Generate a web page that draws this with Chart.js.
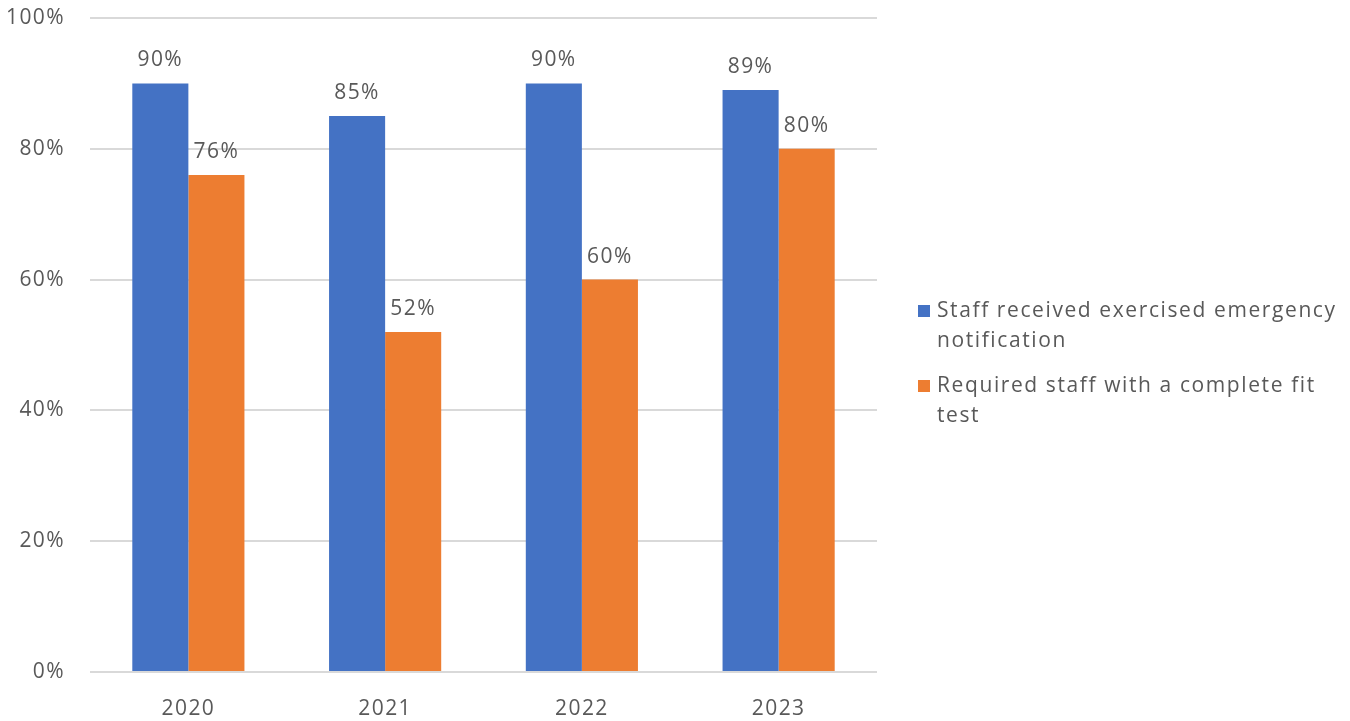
<!DOCTYPE html>
<html>
<head>
<meta charset="utf-8">
<script src="https://cdn.jsdelivr.net/npm/chart.js@4"></script>
<style>
  html, body { margin: 0; padding: 0; background: #fff; }
  #wrap { width: 1350px; height: 721px; }
</style>
</head>
<body>
<div id="wrap"><canvas id="myChart"></canvas></div>
<script>
'use strict';

// ******* DATA *******
let years = ['2020', '2021', '2022', '2023'];
let notifiedStaff = [90, 85, 90, 89];
let fitTestedStaff = [76, 52, 60, 80];
let seriesNames = [
  ['Staff received exercised emergency', 'notification'],
  ['Required staff with a complete fit', 'test']
];
let yTicks = [0, 20, 40, 60, 80, 100];

let textColor = '#595959';
let fontFamily = '"Open Sans", sans-serif';
let blue = '#4472C4';
let orange = '#ED7D31';

// ****** PLUGINS ******
// a little tracking on every piece of text
const wideText = {
  id: 'wideText',
  beforeDraw(chart) {
    chart.ctx.letterSpacing = '1.4px';
  }
};

// value labels above each bar
const barValues = {
  id: 'barValues',
  afterDatasetsDraw(chart) {
    const ctx = chart.ctx;
    ctx.save();
    ctx.font = '21px ' + fontFamily;
    ctx.fillStyle = textColor;
    ctx.textAlign = 'center';
    ctx.textBaseline = 'alphabetic';
    chart.data.datasets.forEach((ds, i) => {
      chart.getDatasetMeta(i).data.forEach((bar, j) => {
        ctx.fillText(ds.data[j] + '%', bar.x, bar.y - 17);
      });
    });
    ctx.restore();
  }
};

// legend on the right with wrapped labels
const sideLegend = {
  id: 'sideLegend',
  afterDraw(chart) {
    const ctx = chart.ctx;
    const colors = [blue, orange];
    let x = 918;
    let y = 311;
    ctx.save();
    ctx.font = '21px ' + fontFamily;
    ctx.letterSpacing = '1.6px';
    ctx.textBaseline = 'middle';
    ctx.textAlign = 'left';
    seriesNames.forEach((lines, i) => {
      ctx.fillStyle = colors[i];
      ctx.fillRect(x, y - 6, 12, 12);
      ctx.fillStyle = textColor;
      lines.forEach((line, k) => {
        ctx.fillText(line, x + 19, y + k * 30);
      });
      y += 75;
    });
    ctx.restore();
  }
};

// ****** CHART ******
const ctx = document.getElementById('myChart').getContext('2d');
const myChart = new Chart(ctx, {
  type: 'bar',
  data: {
    labels: years,
    datasets: [{
      label: seriesNames[0].join(' '),
      data: notifiedStaff,
      backgroundColor: blue,
      categoryPercentage: 0.57,
      barPercentage: 1
    },
    {
      label: seriesNames[1].join(' '),
      data: fitTestedStaff,
      backgroundColor: orange,
      categoryPercentage: 0.57,
      barPercentage: 1
    }]
  },
  options: {
    responsive: true,
    maintainAspectRatio: false,
    animation: false,
    layout: {
      padding: { top: 0, right: 473, left: 0, bottom: 0 }
    },
    plugins: {
      legend: { display: false },
      tooltip: { enabled: false }
    },
    scales: {
      x: {
        grid: { display: false },
        border: { display: false },
        ticks: {
          color: textColor,
          font: { family: fontFamily, size: 21 },
          padding: 16
        },
        afterFit(scale) { scale.height = 49; }
      },
      y: {
        min: 0,
        max: 100,
        afterBuildTicks(scale) {
          scale.ticks = yTicks.map(v => ({ value: v }));
        },
        grid: { color: '#D9D9D9', lineWidth: 2, drawTicks: false },
        border: { display: false },
        ticks: {
          color: textColor,
          font: { family: fontFamily, size: 21 },
          padding: 25,
          callback: v => v + '%'
        },
        afterFit(scale) {
          scale.width = 90;
          scale.paddingTop = 18;
          scale.paddingBottom = 0;
        }
      }
    }
  },
  plugins: [wideText, barValues, sideLegend]
});
</script>
</body>
</html>
